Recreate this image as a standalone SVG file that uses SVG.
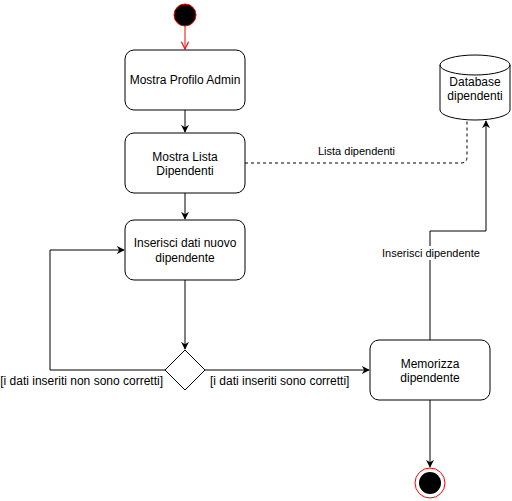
<svg xmlns="http://www.w3.org/2000/svg" width="512" height="501" viewBox="0 0 512 501">
<style>
  .node { fill: #ffffff; stroke: #000000; stroke-width: 1; }
  .t { font-family: "Liberation Sans", Arial, sans-serif; font-size: 12px; fill: #000000; text-anchor: middle; }
  .lbl { font-family: "Liberation Sans", Arial, sans-serif; font-size: 11px; fill: #000000; }
  .guard { font-family: "Liberation Sans", Arial, sans-serif; font-size: 12px; fill: #000000; }
  .edge { fill: none; stroke: #000000; stroke-width: 1; }
</style>
<defs>
  <marker id="arr" viewBox="0 0 10 10" refX="9" refY="5" markerWidth="8" markerHeight="8" markerUnits="userSpaceOnUse" orient="auto">
    <path d="M0,0 L10,5 L0,10 L3,5 Z" fill="#000000"/>
  </marker>
  <marker id="open" viewBox="0 0 10 10" refX="9" refY="5" markerWidth="9" markerHeight="9" markerUnits="userSpaceOnUse" orient="auto">
    <path d="M1,1 L9,5 L1,9" fill="none" stroke="#ff0000" stroke-width="1.2"/>
  </marker>
</defs>
<rect width="512" height="501" fill="#ffffff"/>

<g id="connectors">
  <line x1="185" y1="26" x2="185" y2="49" stroke="#ff0000" stroke-width="1" marker-end="url(#open)"/>
  <line class="edge" x1="185" y1="110" x2="185" y2="132" marker-end="url(#arr)"/>
  <line class="edge" x1="185" y1="193" x2="185" y2="219" marker-end="url(#arr)"/>
  <line class="edge" x1="185" y1="280" x2="185" y2="349" marker-end="url(#arr)"/>
  <path class="edge" d="M165,370 L50,370 L50,250 L124,250" marker-end="url(#arr)"/>
  <line class="edge" x1="205" y1="370" x2="369" y2="370" marker-end="url(#arr)"/>
  <line class="edge" x1="430" y1="400" x2="430" y2="467" marker-end="url(#arr)"/>
  <path class="edge" d="M430,340 L430,231 L486,231 L486,121" marker-end="url(#arr)"/>
  <path class="edge" d="M245,163 L461,163 Q467,163 467,157 L467,120" stroke-dasharray="3,3"/>
  <text class="lbl" x="318" y="155">Lista dipendenti</text>
  <rect x="381" y="246" width="98" height="14" fill="#ffffff"/>
  <text class="lbl" x="382" y="257">Inserisci dipendente</text>
  <text class="guard" x="163" y="385" text-anchor="end">[i dati inseriti non sono corretti]</text>
  <text class="guard" x="210" y="385">[i dati inseriti sono corretti]</text>
</g>

<g id="start">
  <circle cx="185" cy="15" r="11" fill="#000000" stroke="#ff0000" stroke-width="1"/>
</g>

<g id="mostra-profilo">
  <rect class="node" x="125" y="50" width="120" height="60" rx="9"/>
  <text class="t" x="185" y="84">Mostra Profilo Admin</text>
</g>

<g id="mostra-lista">
  <rect class="node" x="125" y="133" width="120" height="60" rx="9"/>
  <text class="t" x="185" y="161">Mostra Lista</text>
  <text class="t" x="185" y="175">Dipendenti</text>
</g>

<g id="inserisci">
  <rect class="node" x="125" y="220" width="120" height="60" rx="9"/>
  <text class="t" x="185" y="247">Inserisci dati nuovo</text>
  <text class="t" x="185" y="262">dipendente</text>
</g>

<g id="decision">
  <polygon class="node" points="185,350 205,370 185,390 165,370"/>
</g>

<g id="memorizza">
  <rect class="node" x="370" y="340" width="120" height="60" rx="9"/>
  <text class="t" x="430" y="368">Memorizza</text>
  <text class="t" x="430" y="382">dipendente</text>
</g>

<g id="database">
  <path class="node" d="M440,65 A35,10 0 0 1 510,65 L510,110 A35,10 0 0 1 440,110 Z"/>
  <path class="edge" d="M440,65 A35,10 0 0 0 510,65"/>
  <text class="t" x="475" y="86">Database</text>
  <text class="t" x="475" y="100">dipendenti</text>
</g>

<g id="end">
  <circle cx="430" cy="483" r="15" fill="#ffffff" stroke="#ff0000" stroke-width="1"/>
  <circle cx="430" cy="483" r="11" fill="#000000"/>
</g>
</svg>
